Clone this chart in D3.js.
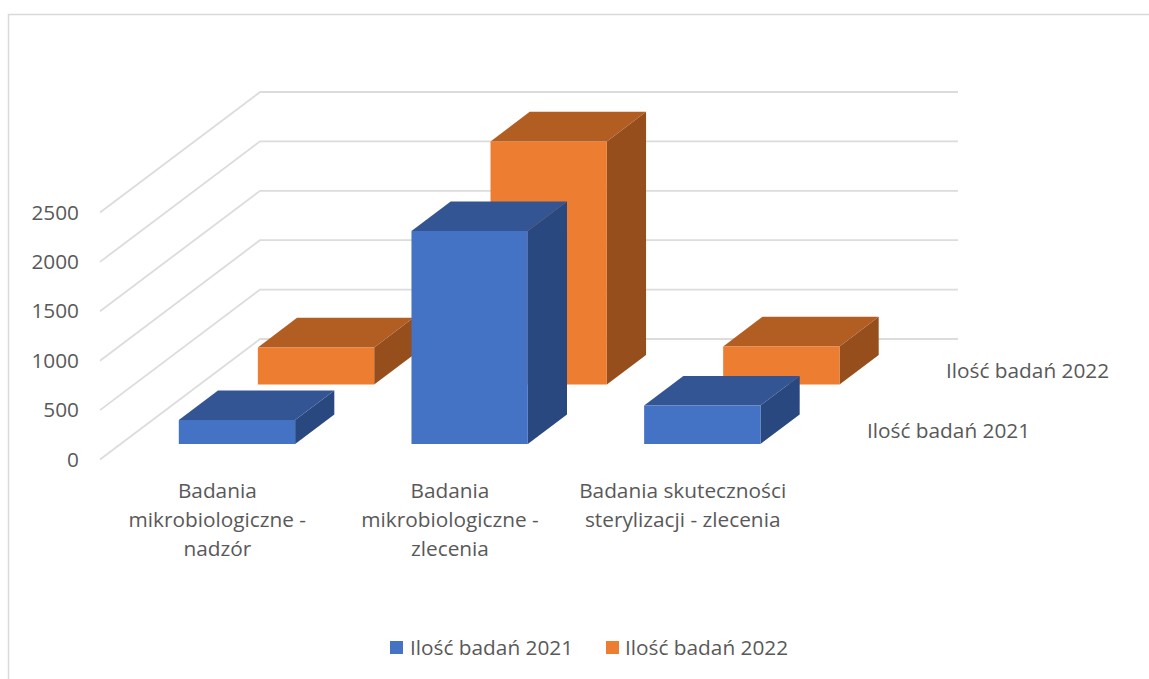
<!DOCTYPE html>
<html><head><meta charset="utf-8">
<script src="https://cdn.jsdelivr.net/npm/d3@7"></script>
<style>html,body{margin:0;padding:0;background:#fff}svg{display:block}text{font-family:"Open Sans",sans-serif;fill:#595959}</style>
</head><body><svg id="c" width="1149" height="679"></svg>
<script>
const categories = ["Badania mikrobiologiczne - nadzór","Badania mikrobiologiczne - zlecenia","Badania skuteczności sterylizacji - zlecenia"];
const categoryLines = [["Badania","mikrobiologiczne -","nadzór"],["Badania","mikrobiologiczne -","zlecenia"],["Badania skuteczności","sterylizacji - zlecenia"]];
const seriesNames = ["Ilość badań 2021","Ilość badań 2022"];
const values2021 = [243,2156,390];
const values2022 = [375,2460,385];
const yTicks = [0,500,1000,1500,2000,2500];
const frontColors = ["#4472C4","#ED7D31"];
const topColors = ["#335593","#B25D22"];
const sideColors = ["#2A4880","#964F1C"];

const svg = d3.select("#c");
const fs = 20.8;
const W0 = {x:100,y:459.5}, depthDX = 160, depthDY = -120.5;
const xS = d3.scaleBand().domain(categories).range([0,698]).paddingInner(0.5).paddingOuter(0.25);
const yS = d3.scaleLinear().domain([0,2500]).range([0,247]);
// z position of each bar's front face as a fraction of the floor depth
const zFront = d3.scaleOrdinal().domain(seriesNames).range([0.129,0.623]);
const zDepth = 0.245;
const P = (x,v,z)=>[W0.x+x+z*depthDX, W0.y-yS(v)+z*depthDY];
const poly = pts=>pts.map(p=>p.join(",")).join(" ");

// frame
svg.append("path").attr("d","M8.5,679V14.5H1149").attr("fill","none").attr("stroke","#d9d9d9").attr("stroke-width",1.5);

// gridlines
const g = svg.append("g");
yTicks.forEach(t=>{
  const pts=[P(0,t,0),P(0,t,1),P(698,t,1)];
  g.append("polyline").attr("points",poly(pts)).attr("fill","none").attr("stroke","#dcdcdc").attr("stroke-width",1.8);
  svg.append("text").attr("x",79).attr("y",P(0,t,0)[1]+7).attr("text-anchor","end").attr("font-size",fs).text(t);
});

// bars: back series first, then the front one
[[1,values2022],[0,values2021]].forEach(([si,vals])=>{
  const name=seriesNames[si], z0=zFront(name), z1=z0+zDepth;
  categories.forEach((c,i)=>{
    const x0=xS(c), x1=x0+xS.bandwidth(), v=vals[i];
    const b=svg.append("g");
    b.append("polygon").attr("points",poly([P(x1,0,z0),P(x1,0,z1),P(x1,v,z1),P(x1,v,z0)])).attr("fill",sideColors[si]);
    b.append("polygon").attr("points",poly([P(x0,v,z0),P(x1,v,z0),P(x1,v,z1),P(x0,v,z1)])).attr("fill",topColors[si]);
    b.append("polygon").attr("points",poly([P(x0,0,z0),P(x1,0,z0),P(x1,v,z0),P(x0,v,z0)])).attr("fill",frontColors[si]);
  });
});

// category labels
categories.forEach((c,i)=>{
  const cx=P(xS(c)+xS.bandwidth()/2,0,0)[0];
  categoryLines[i].forEach((ln,j)=>{
    svg.append("text").attr("x",cx+1).attr("y",498+j*29).attr("text-anchor","middle").attr("font-size",fs).text(ln);
  });
});

// depth-axis labels
svg.append("text").attr("x",867).attr("y",438).attr("font-size",fs).text(seriesNames[0]);
svg.append("text").attr("x",946).attr("y",378).attr("font-size",fs).text(seriesNames[1]);

// legend
[[390,410],[606,625]].forEach(([sx,tx],i)=>{
  svg.append("rect").attr("x",sx).attr("y",641).attr("width",13).attr("height",13).attr("fill",frontColors[i]);
  svg.append("text").attr("x",tx).attr("y",654.5).attr("font-size",fs).text(seriesNames[i]);
});
</script></body></html>
